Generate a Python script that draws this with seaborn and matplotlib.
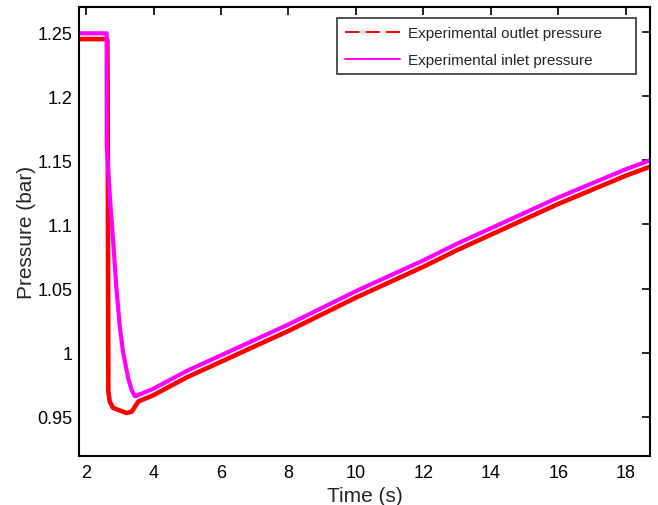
import matplotlib
matplotlib.use("Agg")
import matplotlib.pyplot as plt
from matplotlib.lines import Line2D
import seaborn as sns
import pandas as pd

# Data
time_outlet = [1.79, 2.63, 2.64, 2.66, 2.70, 2.80, 3.00, 3.20, 3.35, 3.45, 3.55, 4.00,
               5.0, 6.0, 7.0, 8.0, 9.0, 10.0, 11.0, 12.0, 13.0, 14.0, 15.0, 16.0,
               17.0, 18.0, 18.72]
p_outlet = [1.2445, 1.2445, 1.21, 0.970, 0.962, 0.957, 0.955, 0.953, 0.954, 0.958, 0.962, 0.967,
            0.981, 0.993, 1.005, 1.017, 1.030, 1.043, 1.055, 1.067, 1.080, 1.092, 1.104, 1.116,
            1.127, 1.138, 1.145]

time_inlet = [1.79, 2.61, 2.615, 2.71, 2.80, 2.90, 3.00, 3.10, 3.25, 3.35, 3.45, 4.00,
              5.0, 6.0, 7.0, 8.0, 9.0, 10.0, 11.0, 12.0, 13.0, 14.0, 15.0, 16.0,
              17.0, 18.0, 18.72]
p_inlet = [1.249, 1.249, 1.16, 1.12, 1.088, 1.050, 1.020, 1.000, 0.980, 0.971, 0.966, 0.972,
           0.986, 0.998, 1.010, 1.022, 1.035, 1.048, 1.060, 1.072, 1.085, 1.097, 1.109, 1.121,
           1.132, 1.143, 1.150]

series_labels = ["Experimental outlet pressure", "Experimental inlet pressure"]
x_ticks = [2, 4, 6, 8, 10, 12, 14, 16, 18]
y_ticks = [0.95, 1.0, 1.05, 1.1, 1.15, 1.2, 1.25]
y_tick_labels = ["0.95", "1", "1.05", "1.1", "1.15", "1.2", "1.25"]

sns.set_style("white")
plt.rcParams["font.family"] = ["Liberation Sans", "DejaVu Sans"]

df_out = pd.DataFrame({"t": time_outlet, "p": p_outlet})
df_in = pd.DataFrame({"t": time_inlet, "p": p_inlet})

fig = plt.figure(figsize=(6.58, 5.06), dpi=100)
ax = fig.add_axes([79 / 658, 1 - 457 / 506, (650 - 79) / 658, (457 - 8) / 506])

sns.lineplot(data=df_out, x="t", y="p", ax=ax, color="#ff0000", linewidth=3.3,
             sort=False, estimator=None)
sns.lineplot(data=df_in, x="t", y="p", ax=ax, color="#ff00ff", linewidth=3.0,
             sort=False, estimator=None)

ax.set_xlim(1.79, 18.72)
ax.set_ylim(0.9195, 1.2695)
ax.set_xticks(x_ticks)
ax.set_xticklabels([str(v) for v in x_ticks])
ax.set_yticks(y_ticks)
ax.set_yticklabels(y_tick_labels)
ax.tick_params(direction="in", top=True, right=True, length=6, width=1.2,
               labelsize=13, colors="black")
ax.tick_params(axis="x", pad=6)
ax.tick_params(axis="y", pad=4.5)
for s in ax.spines.values():
    s.set_linewidth(1.5)
    s.set_color("black")

ax.set_xlabel("Time (s)", fontsize=15, labelpad=3.5)
ax.set_ylabel("Pressure (bar)", fontsize=15, labelpad=1)

handles = [
    Line2D([], [], color="#ff0000", linestyle=(0, (7.5, 3.1)), linewidth=1.4),
    Line2D([], [], color="#ff00ff", linestyle="-", linewidth=1.4),
]
leg = ax.legend(handles, series_labels, loc="upper left", fontsize=11,
                frameon=True, fancybox=False, edgecolor="black",
                handlelength=3.6, handletextpad=0.55, borderpad=0.5,
                labelspacing=0.85, mode="expand", borderaxespad=0,
                bbox_to_anchor=(0.4524, 0.975, 0.523, 0.0))
leg.get_frame().set_linewidth(1.2)

fig.savefig("out.png", dpi=100)
